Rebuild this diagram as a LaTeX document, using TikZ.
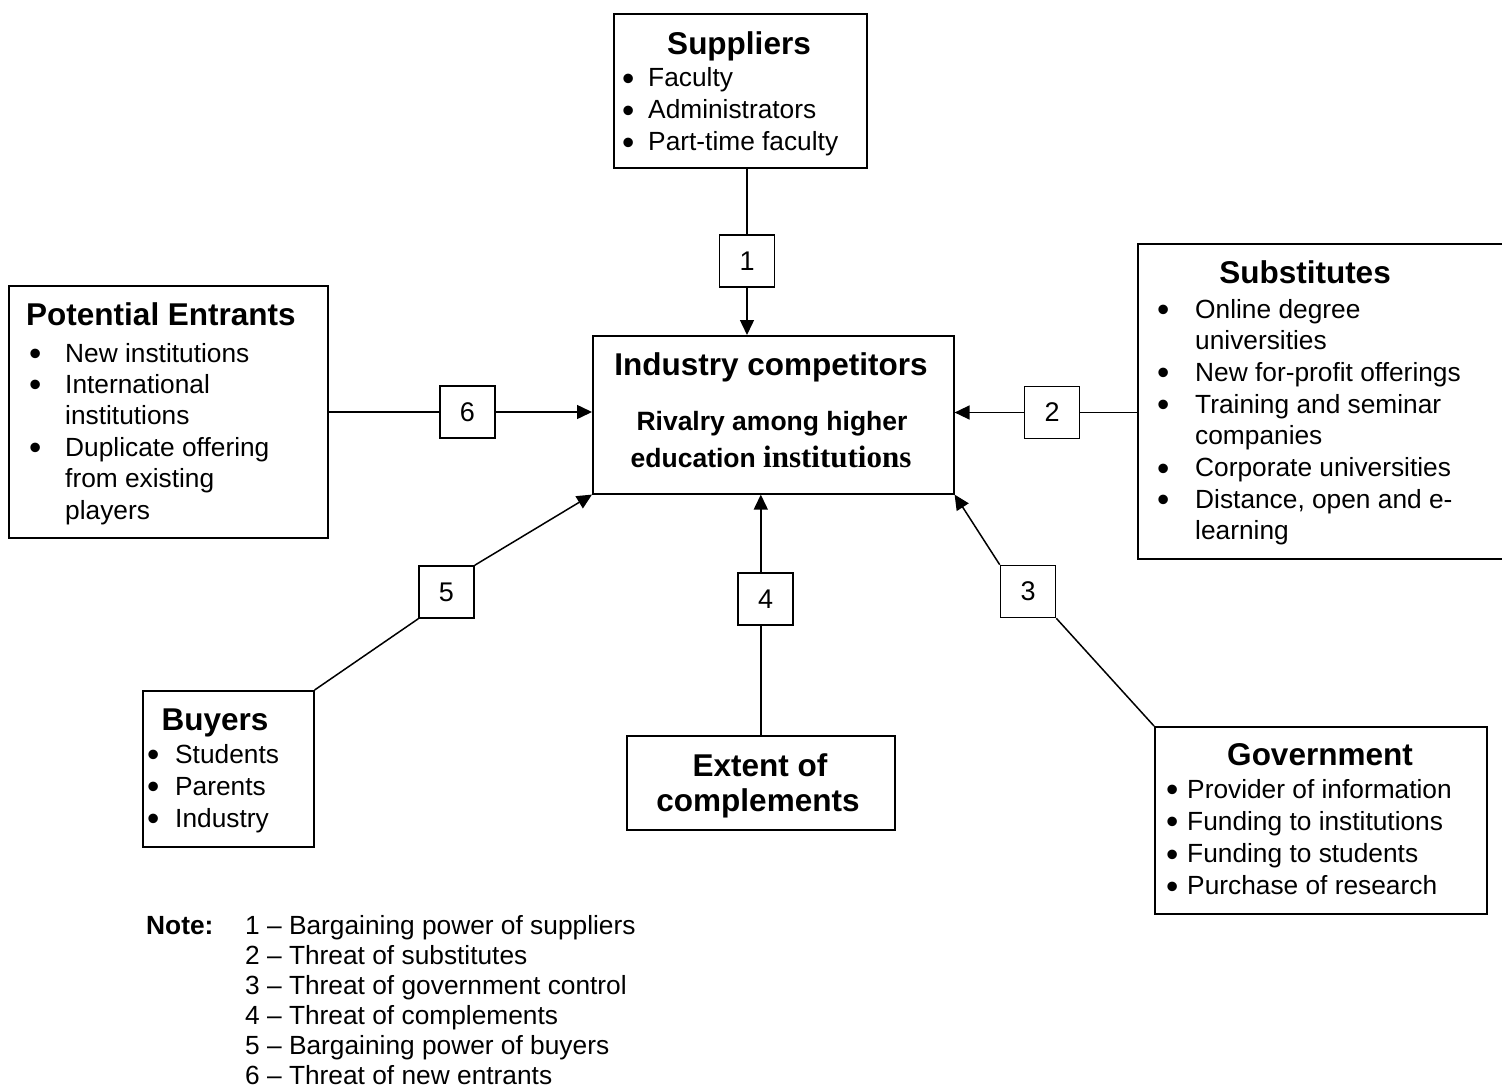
\documentclass[tikz,border=0pt]{standalone}
\usepackage{fontspec}
\setmainfont{Liberation Sans}
\newfontfamily\serifface{Liberation Serif}
\usetikzlibrary{arrows.meta}

% font helpers
\newcommand\bodyfont[1]{\fontsize{26.3}{#1}\selectfont}
\newcommand\headfont{\fontsize{31.5}{36}\selectfont\bfseries}
% bullet whose centre sits half of #1 to the left of the item text
\newcommand\bl[1]{\llap{\makebox[#1][c]{\raisebox{-3.5pt}{\fontsize{35}{0}\selectfont\textbullet}}}}

\tikzset{
  panel/.style={draw, line width=1.6pt, inner sep=0pt, anchor=north west},
  numbox/.style={draw, line width=1.6pt, inner sep=0pt, minimum width=55pt,
                 minimum height=52pt, font=\fontsize{27}{30}\selectfont},
  txt/.style={inner sep=0pt, anchor=base west},
  head/.style={inner sep=0pt, anchor=base, font=\headfont},
  conn/.style={line width=1.5pt},
  arr/.style={conn, -{Triangle[length=15pt,width=14pt]}}
}

\begin{document}
\begin{tikzpicture}[x=1pt, y=-1pt]
\useasboundingbox (0,0) rectangle (1502,1089);
\clip (0,0) rectangle (1502,1089);

% ---- boxes ----
\node[panel, minimum width=253pt, minimum height=154pt] (sup)  at (613,13)  {};
\node[panel, minimum width=361pt, minimum height=158pt] (comp) at (592,335) {};
\node[panel, minimum width=319pt, minimum height=252pt] (ent)  at (8,285)   {};
\node[panel, minimum width=375pt, minimum height=315pt] (sub)  at (1137,243) {};
\node[panel, minimum width=171pt, minimum height=156pt] (buy)  at (142,690) {};
\node[panel, minimum width=268pt, minimum height=94pt]  (cmpl) at (626,735) {};
\node[panel, minimum width=332pt, minimum height=187pt] (gov)  at (1154,726) {};

% ---- numbered force boxes ----
\node[numbox] (n1) at (747,261)   {1};
\node[numbox] (n2) at (1052,412.5) {2};
\node[numbox] (n3) at (1028,591.5) {3};
\node[numbox] (n4) at (765.5,599) {4};
\node[numbox] (n5) at (446.5,592) {5};
\node[numbox] (n6) at (467.5,412) {6};

% ---- connectors ----
\draw[conn] (n1.north |- sup.south) -- (n1.north);
\draw[arr]  (n1.south) -- (n1.south |- comp.north);
\draw[conn] (ent.east |- n6.west) -- (n6.west);
\draw[arr]  (n6.east) -- (n6.east -| comp.west);
\draw[conn] (sub.west |- n2.east) -- (n2.east);
\draw[arr]  (n2.west) -- (n2.west -| comp.east);
\draw[conn] (buy.north east) -- (n5.south west);
\draw[arr]  (n5.north east) -- (comp.south west);
\draw[conn] (cmpl.north) -- (cmpl.north |- n4.south);
\draw[arr]  (cmpl.north |- n4.north) -- (cmpl.north |- comp.south);
\draw[conn] (gov.north west) -- (n3.south east);
\draw[arr]  (n3.north west) -- (comp.south east);

% ---- Suppliers ----
\node[head] (sup-title) at (739,55) {Suppliers};
\node[txt] (sup-list) at (648,87) {\bodyfont{32pt}\begin{tabular}[t]{@{}l@{}}
  \bl{40pt}Faculty\\ \bl{40pt}Administrators\\ \bl{40pt}Part-time faculty
\end{tabular}};

% ---- Industry competitors ----
\node[head] (comp-title) at (771,375) {Industry competitors};
\node[inner sep=0pt, anchor=base] (comp-l1) at (772,430)
  {\fontsize{26.5}{30}\selectfont\bfseries Rivalry among higher};
\node[inner sep=0pt, anchor=base] (comp-l2) at (771,467)
  {\fontsize{26.5}{30}\selectfont\bfseries education {\serifface\fontsize{31}{30}\selectfont institutions}};

% ---- Potential Entrants ----
\node[head] (ent-title) at (161,325) {Potential Entrants};
\node[txt] (ent-list) at (65,362) {\bodyfont{31.4pt}\begin{tabular}[t]{@{}l@{}}
  \bl{60pt}New institutions\\ \bl{60pt}International\\ institutions\\
  \bl{60pt}Duplicate offering\\ from existing\\ players
\end{tabular}};

% ---- Substitutes ----
\node[head] (sub-title) at (1305,283) {Substitutes};
\node[txt] (sub-list) at (1195,318) {\bodyfont{31.7pt}\begin{tabular}[t]{@{}l@{}}
  \bl{64pt}Online degree\\ universities\\ \bl{64pt}New for-profit offerings\\
  \bl{64pt}Training and seminar\\ companies\\ \bl{64pt}Corporate universities\\
  \bl{64pt}Distance, open and e-\\ learning
\end{tabular}};

% ---- Buyers ----
\node[head] (buy-title) at (215,730) {Buyers};
\node[txt] (buy-list) at (175,763) {\bodyfont{32pt}\begin{tabular}[t]{@{}l@{}}
  \bl{44pt}Students\\ \bl{44pt}Parents\\ \bl{44pt}Industry
\end{tabular}};

% ---- Extent of complements ----
\node[head] (cmpl-l1) at (760,776) {Extent of};
\node[head] (cmpl-l2) at (758,811) {complements};

% ---- Government ----
\node[head] (gov-title) at (1320,765) {Government};
\node[txt] (gov-list) at (1187,798) {\bodyfont{32.3pt}\begin{tabular}[t]{@{}l@{}}
  \bl{30pt}Provider of information\\ \bl{30pt}Funding to institutions\\
  \bl{30pt}Funding to students\\ \bl{30pt}Purchase of research
\end{tabular}};

% ---- legend ----
\node[txt, font=\bodyfont{30pt}\bfseries] (note) at (146,934) {Note:};
\node[txt] (note-list) at (245,934) {\bodyfont{30.1pt}\begin{tabular}[t]{@{}l@{}}
  1 – Bargaining power of suppliers\\
  2 – Threat of substitutes\\
  3 – Threat of government control\\
  4 – Threat of complements\\
  5 – Bargaining power of buyers\\
  6 – Threat of new entrants
\end{tabular}};
\end{tikzpicture}
\end{document}
